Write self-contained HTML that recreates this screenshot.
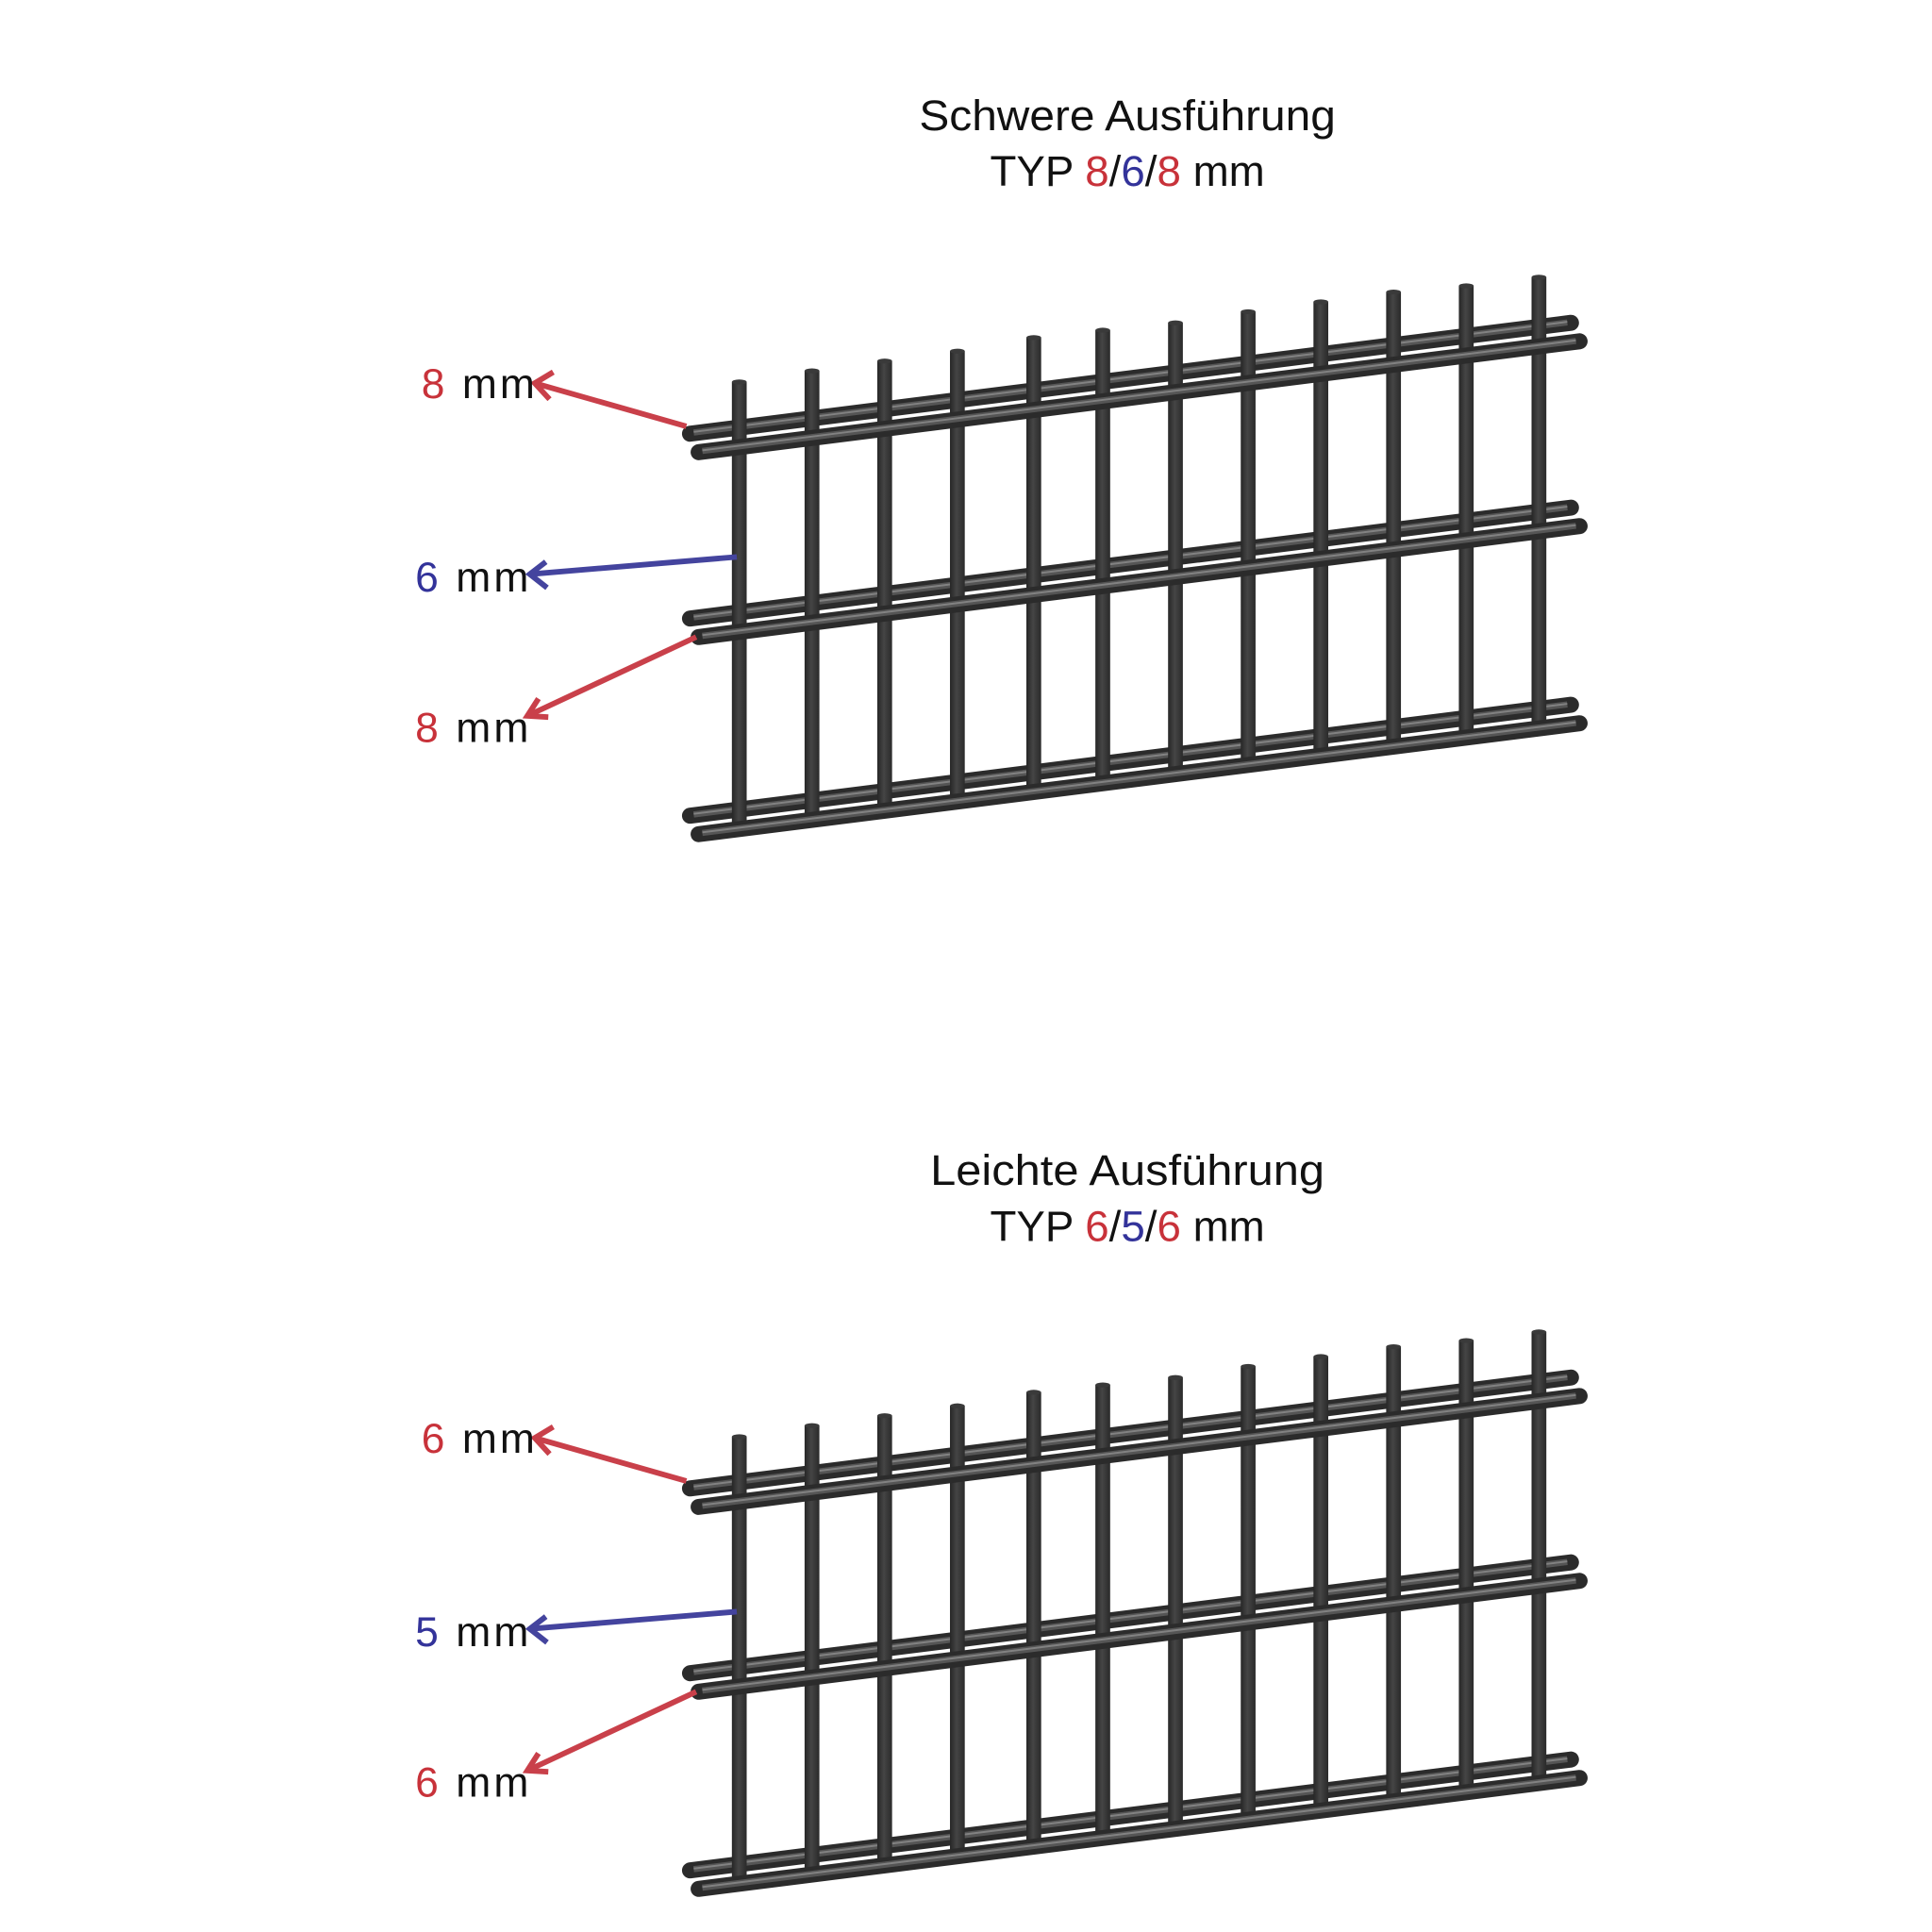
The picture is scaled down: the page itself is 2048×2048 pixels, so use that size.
<!DOCTYPE html>
<html><head><meta charset="utf-8"><style>html,body{margin:0;padding:0;background:#fff}svg{display:block}</style></head>
<body>
<svg width="2048" height="2048" viewBox="0 0 1568 1568" xmlns="http://www.w3.org/2000/svg" font-family="Liberation Sans, sans-serif">
<defs>
<linearGradient id="vg" x1="0" x2="1" y1="0" y2="0">
<stop offset="0" stop-color="#262626"/><stop offset="0.45" stop-color="#454545"/><stop offset="1" stop-color="#2a2a2a"/>
</linearGradient>
<g id="railA">
<line x1="0" y1="0" x2="715" y2="-90" stroke="#2b2b2b" stroke-width="13" stroke-linecap="round"/>
<line x1="3" y1="-1" x2="712" y2="-90.3" stroke="#5a5a5a" stroke-width="5" opacity="0.9"/>
<line x1="3" y1="-1.5" x2="712" y2="-90.8" stroke="#8e8e8e" stroke-width="1.5" opacity="0.8"/>
</g>
<g id="fence">
<use href="#railA" transform="translate(560,352)"/>
<use href="#railA" transform="translate(560,502)"/>
<use href="#railA" transform="translate(560,662)"/>
<g fill="url(#vg)">
<rect x="594" y="310" width="12" height="367"/>
<rect x="653" y="301" width="12" height="368"/>
<rect x="712" y="293" width="12" height="369"/>
<rect x="771" y="285" width="12" height="370"/>
<rect x="833" y="274" width="12" height="373"/>
<rect x="889" y="268" width="12" height="372"/>
<rect x="948" y="262" width="12" height="370"/>
<rect x="1007" y="253" width="12" height="372"/>
<rect x="1066" y="245" width="12" height="372"/>
<rect x="1125" y="237" width="12" height="373"/>
<rect x="1184" y="232" width="12" height="371"/>
<rect x="1243" y="225" width="12" height="370"/>
</g>
<g fill="#3a3a3a">
<ellipse cx="600" cy="310" rx="6" ry="2"/><ellipse cx="659" cy="301" rx="6" ry="2"/><ellipse cx="718" cy="293" rx="6" ry="2"/><ellipse cx="777" cy="285" rx="6" ry="2"/><ellipse cx="839" cy="274" rx="6" ry="2"/><ellipse cx="895" cy="268" rx="6" ry="2"/><ellipse cx="954" cy="262" rx="6" ry="2"/><ellipse cx="1013" cy="253" rx="6" ry="2"/><ellipse cx="1072" cy="245" rx="6" ry="2"/><ellipse cx="1131" cy="237" rx="6" ry="2"/><ellipse cx="1190" cy="232" rx="6" ry="2"/><ellipse cx="1249" cy="225" rx="6" ry="2"/>
</g>
<use href="#railA" transform="translate(567,367)"/>
<use href="#railA" transform="translate(567,517)"/>
<use href="#railA" transform="translate(567,677)"/>
</g>
</defs>

<text x="915" y="105.5" font-size="35" text-anchor="middle" fill="#111" textLength="338" lengthAdjust="spacingAndGlyphs">Schwere Ausführung</text>
<text x="915" y="151" font-size="35" text-anchor="middle" fill="#111">TYP <tspan fill="#c8323a">8</tspan>/<tspan fill="#33339a">6</tspan>/<tspan fill="#c8323a">8</tspan> mm</text>
<use href="#fence"/>
<g stroke-width="4.5" fill="none" stroke-linejoin="miter">
<line x1="557" y1="346" x2="434" y2="311" stroke="#c9404a"/>
<polyline points="449,302 434,311 446,324" stroke="#c9404a"/>
<line x1="598" y1="452" x2="430" y2="466" stroke="#44449e"/>
<polyline points="443,456 430,466 444,477" stroke="#44449e"/>
<line x1="565" y1="517" x2="428" y2="581" stroke="#c9404a"/>
<polyline points="437,567 428,581 445,582" stroke="#c9404a"/>
</g>
<text x="342" y="323" font-size="34" fill="#111" textLength="92"><tspan fill="#c8323a">8</tspan> mm</text>
<text x="337" y="480" font-size="34" fill="#111" textLength="92"><tspan fill="#33339a">6</tspan> mm</text>
<text x="337" y="602" font-size="34" fill="#111" textLength="92"><tspan fill="#c8323a">8</tspan> mm</text>

<g transform="translate(0,856)">
<text x="915" y="105.5" font-size="35" text-anchor="middle" fill="#111" textLength="320" lengthAdjust="spacingAndGlyphs">Leichte Ausführung</text>
<text x="915" y="151" font-size="35" text-anchor="middle" fill="#111">TYP <tspan fill="#c8323a">6</tspan>/<tspan fill="#33339a">5</tspan>/<tspan fill="#c8323a">6</tspan> mm</text>
<use href="#fence"/>
<g stroke-width="4.5" fill="none" stroke-linejoin="miter">
<line x1="557" y1="346" x2="434" y2="311" stroke="#c9404a"/>
<polyline points="449,302 434,311 446,324" stroke="#c9404a"/>
<line x1="598" y1="452" x2="430" y2="466" stroke="#44449e"/>
<polyline points="443,456 430,466 444,477" stroke="#44449e"/>
<line x1="565" y1="517" x2="428" y2="581" stroke="#c9404a"/>
<polyline points="437,567 428,581 445,582" stroke="#c9404a"/>
</g>
<text x="342" y="323" font-size="34" fill="#111" textLength="92"><tspan fill="#c8323a">6</tspan> mm</text>
<text x="337" y="480" font-size="34" fill="#111" textLength="92"><tspan fill="#33339a">5</tspan> mm</text>
<text x="337" y="602" font-size="34" fill="#111" textLength="92"><tspan fill="#c8323a">6</tspan> mm</text>
</g>
</svg>
</body></html>
